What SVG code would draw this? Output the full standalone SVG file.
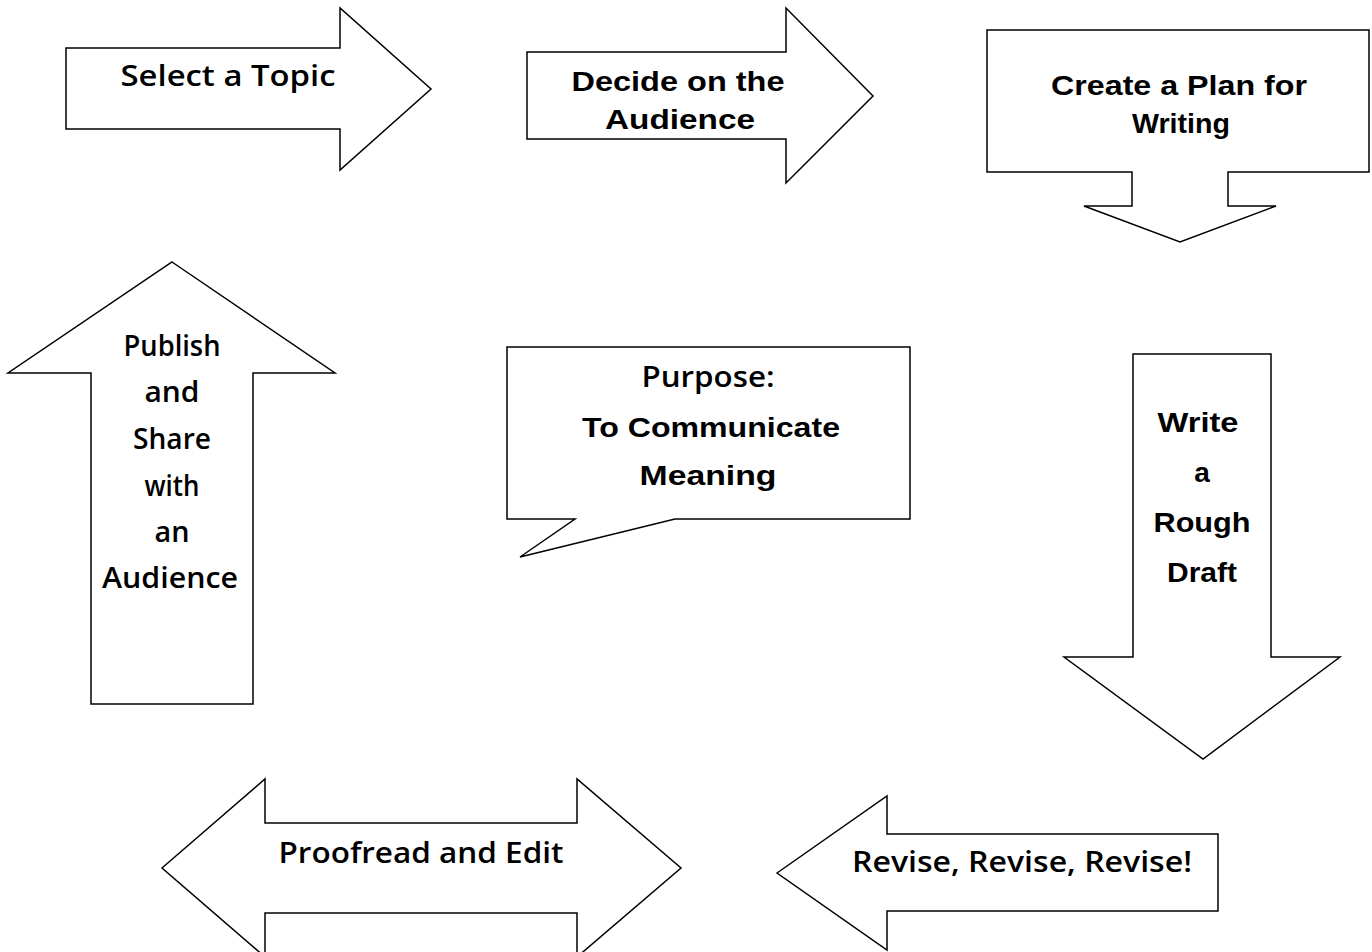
<svg xmlns="http://www.w3.org/2000/svg" width="1372" height="952" viewBox="0 0 1372 952">
<style>
.shape{fill:#fff;stroke:#000;stroke-width:1.5;stroke-linejoin:miter}
.a{font-family:"Liberation Sans",Arial,sans-serif;font-weight:bold;font-size:28px;text-anchor:middle;fill:#000}
.h{font-family:"Open Sans","Liberation Sans",sans-serif;font-weight:600;font-size:28px;text-anchor:middle;fill:#000}
</style>
<rect width="1372" height="952" fill="#fff"/>
<g id="connectors"/>
<g id="select-topic">
<polygon class="shape" points="66,48 340,48 340,8 431,89 340,170 340,129 66,129"/>
<text class="h" x="228" y="86" textLength="215" lengthAdjust="spacingAndGlyphs">Select a Topic</text>
</g>
<g id="decide-audience">
<polygon class="shape" points="527,52 786,52 786,8 873,96 786,183 786,139 527,139"/>
<text class="a" x="678" y="91" textLength="213" lengthAdjust="spacingAndGlyphs">Decide on the</text>
<text class="a" x="680" y="129" textLength="150" lengthAdjust="spacingAndGlyphs">Audience</text>
</g>
<g id="create-plan">
<path class="shape" d="M987,30 H1369 V172 H1228 V206 H1276 L1180,242 L1084,206 H1132 V172 H987 Z"/>
<text class="a" x="1179" y="95" textLength="256" lengthAdjust="spacingAndGlyphs">Create a Plan for</text>
<text class="a" x="1181" y="133" textLength="98" lengthAdjust="spacingAndGlyphs">Writing</text>
</g>
<g id="publish-share">
<polygon class="shape" points="172,262 335,373 253,373 253,704 91,704 91,373 8,373"/>
<text class="h" x="172" y="356" textLength="97" lengthAdjust="spacingAndGlyphs">Publish</text>
<text class="h" x="172" y="402" textLength="55" lengthAdjust="spacingAndGlyphs">and</text>
<text class="h" x="172" y="449" textLength="78" lengthAdjust="spacingAndGlyphs">Share</text>
<text class="h" x="172" y="496" textLength="55" lengthAdjust="spacingAndGlyphs">with</text>
<text class="h" x="172" y="542" textLength="35" lengthAdjust="spacingAndGlyphs">an</text>
<text class="h" x="170" y="588" textLength="136" lengthAdjust="spacingAndGlyphs">Audience</text>
</g>
<g id="purpose">
<path class="shape" d="M507,347 H910 V519 H675 L520,557 L575,519 H507 Z"/>
<text class="h" x="708" y="387" textLength="133" lengthAdjust="spacingAndGlyphs">Purpose:</text>
<text class="a" x="711" y="437" textLength="258" lengthAdjust="spacingAndGlyphs">To Communicate</text>
<text class="a" x="708" y="485" textLength="137" lengthAdjust="spacingAndGlyphs">Meaning</text>
</g>
<g id="rough-draft">
<polygon class="shape" points="1133,354 1271,354 1271,657 1340,657 1203,759 1064,657 1133,657"/>
<text class="a" x="1198" y="432" textLength="81" lengthAdjust="spacingAndGlyphs">Write</text>
<text class="a" x="1202" y="482">a</text>
<text class="a" x="1202" y="532" textLength="97" lengthAdjust="spacingAndGlyphs">Rough</text>
<text class="a" x="1202" y="582" textLength="70" lengthAdjust="spacingAndGlyphs">Draft</text>
</g>
<g id="proofread-edit">
<polygon class="shape" points="162,868 265,779 265,823 577,823 577,779 681,868 577,957 577,913 265,913 265,957"/>
<text class="h" x="421" y="863" textLength="285" lengthAdjust="spacingAndGlyphs">Proofread and Edit</text>
</g>
<g id="revise">
<polygon class="shape" points="777,873 887,796 887,834 1218,834 1218,911 887,911 887,950"/>
<text class="h" x="1022" y="872" textLength="340" lengthAdjust="spacingAndGlyphs">Revise, Revise, Revise!</text>
</g>
</svg>
